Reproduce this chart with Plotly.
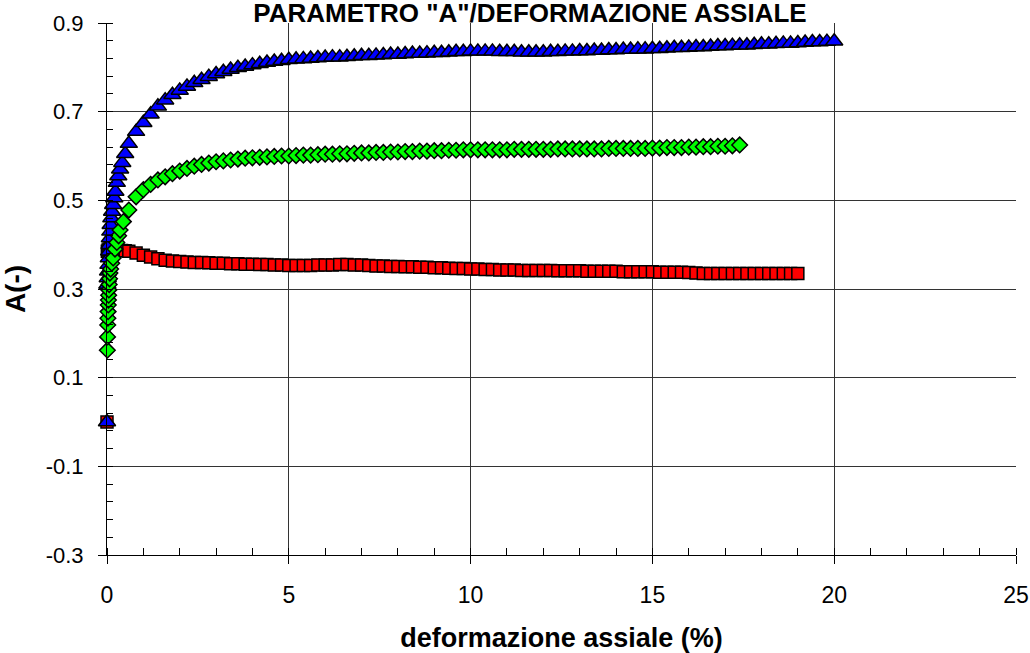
import plotly.graph_objects as go

# ---- data (deformazione assiale %, parametro A) ----
STEPS = [0.6, 0.8, 1.0, 1.2, 1.4, 1.6, 1.8, 2.0, 2.2, 2.4, 2.6, 2.8, 3.0, 3.2, 3.4, 3.6, 3.8, 4.0,
         4.2, 4.4, 4.6, 4.8, 5.0, 5.2, 5.4, 5.6, 5.8, 6.0, 6.2, 6.4, 6.6, 6.8, 7.0, 7.2, 7.4, 7.6,
         7.8, 8.0, 8.2, 8.4, 8.6, 8.8, 9.0, 9.2, 9.4, 9.6, 9.8, 10.0, 10.2, 10.4, 10.6, 10.8, 11.0,
         11.2, 11.4, 11.6, 11.8, 12.0, 12.2, 12.4, 12.6, 12.8, 13.0, 13.2, 13.4, 13.6, 13.8, 14.0,
         14.2, 14.4, 14.6, 14.8, 15.0, 15.2, 15.4, 15.6, 15.8, 16.0, 16.2, 16.4, 16.6, 16.8, 17.0,
         17.2, 17.4, 17.6, 17.8, 18.0, 18.2, 18.4, 18.6, 18.8, 19.0, 19.2, 19.4, 19.6, 19.8, 20.0]

blue_x_start = [0, 0.01, 0.02, 0.03, 0.04, 0.05, 0.06, 0.07, 0.08, 0.09, 0.1, 0.12, 0.14, 0.17,
                0.2, 0.23, 0.27, 0.31, 0.36, 0.42, 0.5]
blue_y_start = [0.0, 0.31, 0.325, 0.34, 0.355, 0.37, 0.385, 0.40, 0.415, 0.43, 0.445, 0.46, 0.475,
                0.49, 0.505, 0.52, 0.54, 0.555, 0.57, 0.585, 0.605]
blue_y_steps = [0.628, 0.655, 0.675, 0.694, 0.712, 0.726, 0.738, 0.748, 0.757, 0.765, 0.772, 0.779,
                0.785, 0.790, 0.795, 0.799, 0.802, 0.805, 0.808, 0.811, 0.813, 0.815, 0.817, 0.818,
                0.819, 0.820, 0.821, 0.822, 0.823, 0.823, 0.824, 0.825, 0.826, 0.826, 0.827, 0.828,
                0.829, 0.829, 0.830, 0.831, 0.831, 0.832, 0.833, 0.833, 0.834, 0.835, 0.835, 0.836,
                0.836, 0.836, 0.836, 0.835, 0.835, 0.835, 0.834, 0.834, 0.834, 0.834, 0.835, 0.835,
                0.836, 0.836, 0.837, 0.837, 0.838, 0.838, 0.839, 0.839, 0.840, 0.840, 0.841, 0.841,
                0.842, 0.842, 0.843, 0.844, 0.844, 0.845, 0.846, 0.846, 0.847, 0.848, 0.848, 0.849,
                0.850, 0.850, 0.851, 0.852, 0.852, 0.853, 0.854, 0.854, 0.855, 0.856, 0.857, 0.857,
                0.858, 0.859]

green_x_start = [0.01, 0.015, 0.02, 0.025, 0.03, 0.035, 0.04, 0.045, 0.05, 0.06, 0.07, 0.08, 0.1,
                 0.13, 0.17, 0.22, 0.27, 0.32, 0.36, 0.45]
green_y_start = [0.162, 0.192, 0.219, 0.234, 0.249, 0.264, 0.275, 0.286, 0.298, 0.31, 0.323, 0.336,
                 0.345, 0.358, 0.37, 0.39, 0.405, 0.42, 0.433, 0.452]
green_y_steps = [0.478, 0.508, 0.524, 0.536, 0.546, 0.553, 0.560, 0.566, 0.572, 0.577, 0.581, 0.584,
                 0.587, 0.589, 0.591, 0.593, 0.595, 0.596, 0.597, 0.598, 0.599, 0.600, 0.600, 0.601,
                 0.602, 0.602, 0.603, 0.604, 0.604, 0.605, 0.605, 0.606, 0.607, 0.607, 0.608, 0.608,
                 0.609, 0.609, 0.610, 0.610, 0.611, 0.611, 0.612, 0.612, 0.613, 0.613, 0.614, 0.614,
                 0.614, 0.614, 0.614, 0.614, 0.614, 0.615, 0.615, 0.615, 0.615, 0.615, 0.615, 0.616,
                 0.616, 0.616, 0.616, 0.616, 0.616, 0.616, 0.617, 0.617, 0.617, 0.617, 0.617, 0.617,
                 0.618, 0.618, 0.619, 0.619, 0.619, 0.620, 0.620, 0.621, 0.621, 0.622, 0.622, 0.623,
                 0.625]

red_x_start = [0, 0.01, 0.03, 0.06, 0.1, 0.15, 0.2, 0.3, 0.4, 0.5]
red_y_start = [0.0, 0.385, 0.388, 0.39, 0.39, 0.39, 0.389, 0.388, 0.387, 0.386]
red_y_steps = [0.385, 0.381, 0.376, 0.372, 0.368, 0.365, 0.363, 0.362, 0.361, 0.360, 0.360, 0.359,
               0.358, 0.358, 0.357, 0.357, 0.356, 0.356, 0.355, 0.355, 0.354, 0.354, 0.353, 0.353,
               0.353, 0.353, 0.354, 0.354, 0.354, 0.355, 0.355, 0.354, 0.354, 0.353, 0.352, 0.352,
               0.351, 0.351, 0.350, 0.350, 0.349, 0.349, 0.348, 0.348, 0.347, 0.346, 0.346, 0.345,
               0.345, 0.344, 0.344, 0.343, 0.343, 0.343, 0.342, 0.342, 0.342, 0.342, 0.342, 0.341,
               0.341, 0.341, 0.341, 0.340, 0.340, 0.340, 0.340, 0.340, 0.339, 0.339, 0.339, 0.339,
               0.339, 0.338, 0.338, 0.338, 0.338, 0.337, 0.336, 0.335, 0.335, 0.335, 0.335, 0.335,
               0.335, 0.335, 0.335, 0.335, 0.335, 0.335, 0.335, 0.335, 0.335]

Y_TICKS = [-0.3, -0.1, 0.1, 0.3, 0.5, 0.7, 0.9]
Y_TICK_LABELS = ["-0.3", "-0.1", "0.1", "0.3", "0.5", "0.7", "0.9"]
X_TICKS = [0, 5, 10, 15, 20, 25]
X_TICK_LABELS = ["0", "5", "10", "15", "20", "25"]

TITLE = 'PARAMETRO "A"/DEFORMAZIONE ASSIALE'
X_TITLE = "deformazione assiale (%)"
Y_TITLE = "A(-)"

fig = go.Figure()

def add_series(xs, ys, symbol, color, size):
    fig.add_trace(go.Scatter(
        x=xs, y=ys, mode="markers", cliponaxis=False, showlegend=False,
        marker=dict(symbol=symbol, color=color, size=size,
                    line=dict(color="black", width=1.5)),
    ))

add_series(red_x_start + STEPS[:len(red_y_steps)], red_y_start + red_y_steps, "square", "#FF0000", 12)
add_series(blue_x_start + STEPS[:len(blue_y_steps)], blue_y_start + blue_y_steps, "triangle-up", "#0000FF", 15)
add_series(green_x_start + STEPS[:len(green_y_steps)], green_y_start + green_y_steps, "diamond", "#00FF00", 12)

font_tick = "Liberation Sans, Arial, sans-serif"

fig.update_layout(
    width=1030, height=653,
    paper_bgcolor="white", plot_bgcolor="white",
    margin=dict(l=107, r=14, t=23, b=98, autoexpand=False),
    title=dict(text=TITLE, x=530 / 1030, xanchor="center", y=1 - 13 / 653, yanchor="middle",
               automargin=False,
               font=dict(family="Liberation Sans, Arial", size=26, color="black", weight="bold")),
    xaxis=dict(
        range=[0, 25], tickvals=X_TICKS, ticktext=X_TICK_LABELS, automargin=False,
        showgrid=True, gridcolor="#333333", gridwidth=1,
        showline=True, linecolor="black", linewidth=1,
        ticks="outside", ticklen=8, tickcolor="black",
        minor=dict(dtick=1, tick0=0, ticks="inside", ticklen=7, tickcolor="black", showgrid=False),
        tickfont=dict(family=font_tick, size=23, color="black"),
        ticklabelstandoff=11,
        zeroline=False,
        title=dict(text=X_TITLE, standoff=25,
                   font=dict(family="Liberation Sans, Arial", size=27, color="black", weight="bold")),
    ),
    yaxis=dict(
        range=[-0.3, 0.9], tickvals=Y_TICKS, ticktext=Y_TICK_LABELS, automargin=False,
        showgrid=True, gridcolor="#333333", gridwidth=1,
        showline=True, linecolor="black", linewidth=1,
        ticks="outside", ticklen=8, tickcolor="black",
        minor=dict(dtick=0.04, tick0=-0.3, ticks="inside", ticklen=6, tickcolor="black", showgrid=False),
        tickfont=dict(family=font_tick, size=22, color="black"),
        ticklabelstandoff=10,
        zeroline=False,
        title=dict(text=Y_TITLE, standoff=14,
                   font=dict(family="Liberation Sans, Arial", size=28, color="black", weight="bold")),
    ),
)

fig.write_html("out.html",
               config={"displayModeBar": False},
               post_script="document.body.style.margin='0';document.body.style.overflow='hidden';")
